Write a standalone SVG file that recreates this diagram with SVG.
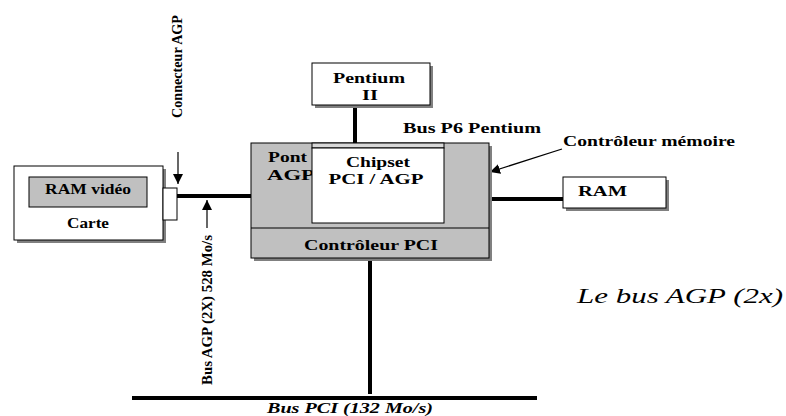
<svg xmlns="http://www.w3.org/2000/svg" width="786" height="416" viewBox="0 0 786 416">
<defs>
<style>
.box{fill:#fff;stroke:#000;stroke-width:1}
.gray{fill:#c0c0c0;stroke:#000;stroke-width:1}
.sh{fill:#808080}
.t{font-family:"Liberation Serif",serif;font-weight:bold;font-size:15px;fill:#000}
.bus{stroke:#000;stroke-width:4;fill:none}
.thin{stroke:#000;stroke-width:1.2;fill:none}
</style>
<marker id="ah" viewBox="0 0 10 10" refX="10" refY="5" markerWidth="10" markerHeight="10" markerUnits="userSpaceOnUse" orient="auto">
<path d="M0,0 L10,5 L0,10 z" fill="#000"/>
</marker>
</defs>
<rect width="786" height="416" fill="#fff"/>

<g id="connectors">
<line class="bus" x1="177" y1="196" x2="251" y2="196"/>
<line class="bus" x1="355" y1="105" x2="355" y2="143"/>
<line class="bus" x1="490" y1="199" x2="563" y2="199"/>
<line class="bus" x1="370" y1="259" x2="370" y2="394"/>
<line class="bus" x1="132" y1="398" x2="537" y2="398"/>
<line class="thin" x1="178" y1="152" x2="178" y2="184" marker-end="url(#ah)"/>
<line class="thin" x1="207" y1="228" x2="207" y2="200" marker-end="url(#ah)"/>
<line class="thin" x1="562" y1="149" x2="490" y2="172" marker-end="url(#ah)"/>
</g>

<g id="carte">
<rect class="sh" x="17" y="169" width="149" height="74"/>
<rect class="box" x="14" y="166" width="149" height="74"/>
<rect class="gray" x="29" y="177" width="118" height="30"/>
<text class="t" x="88" y="194" text-anchor="middle" textLength="86" lengthAdjust="spacingAndGlyphs">RAM vidéo</text>
<text class="t" x="88" y="228" text-anchor="middle" textLength="42" lengthAdjust="spacingAndGlyphs">Carte</text>
</g>

<g id="connecteur">
<rect class="box" x="163" y="188" width="14" height="32"/>
<text class="t" transform="translate(182,118) rotate(-90)" font-size="17" textLength="103" lengthAdjust="spacingAndGlyphs">Connecteur AGP</text>
</g>

<g id="bus-agp-label">
<text class="t" transform="translate(212,385) rotate(-90)" font-size="17" textLength="150" lengthAdjust="spacingAndGlyphs">Bus AGP (2X) 528 Mo/s</text>
</g>

<g id="pentium">
<rect class="sh" x="315" y="66" width="118" height="42"/>
<rect class="box" x="312" y="63" width="118" height="42"/>
<text class="t" x="369" y="83" text-anchor="middle" textLength="72" lengthAdjust="spacingAndGlyphs">Pentium</text>
<text class="t" x="370" y="100" text-anchor="middle" textLength="16" lengthAdjust="spacingAndGlyphs">II</text>
</g>

<text class="t" x="403" y="133" font-size="14" textLength="138" lengthAdjust="spacingAndGlyphs">Bus P6 Pentium</text>

<g id="chipset">
<rect class="sh" x="254" y="146" width="238" height="115"/>
<rect class="gray" x="251" y="143" width="238" height="115"/>
<line class="thin" x1="251" y1="228" x2="489" y2="228"/>
<text class="t" x="268" y="162" textLength="39" lengthAdjust="spacingAndGlyphs">Pont</text>
<text class="t" x="267" y="180" textLength="48" lengthAdjust="spacingAndGlyphs">AGP</text>
<rect x="312" y="143" width="132" height="5" fill="#d8d8d8" stroke="#000" stroke-width="1"/>
<rect class="box" x="312" y="148" width="132" height="75"/>
<text class="t" x="378" y="167" text-anchor="middle" font-size="16" textLength="64" lengthAdjust="spacingAndGlyphs">Chipset</text>
<text class="t" x="376" y="184" text-anchor="middle" font-size="16" textLength="95" lengthAdjust="spacingAndGlyphs">PCI / AGP</text>
<text class="t" x="371" y="250" text-anchor="middle" textLength="134" lengthAdjust="spacingAndGlyphs">Contrôleur PCI</text>
</g>

<text class="t" x="563" y="146" font-size="14" textLength="172" lengthAdjust="spacingAndGlyphs">Contrôleur mémoire</text>

<g id="ram">
<rect class="sh" x="566" y="180" width="103" height="31"/>
<rect class="box" x="563" y="177" width="103" height="31"/>
<text class="t" x="578" y="196" font-size="16" textLength="49" lengthAdjust="spacingAndGlyphs">RAM</text>
</g>

<text class="t" x="350" y="413" text-anchor="middle" font-style="italic" textLength="166" lengthAdjust="spacingAndGlyphs">Bus PCI (132 Mo/s)</text>
<text x="577" y="303" font-family="Liberation Serif, serif" font-style="italic" font-size="22" textLength="206" lengthAdjust="spacingAndGlyphs">Le bus AGP (2x)</text>
</svg>
